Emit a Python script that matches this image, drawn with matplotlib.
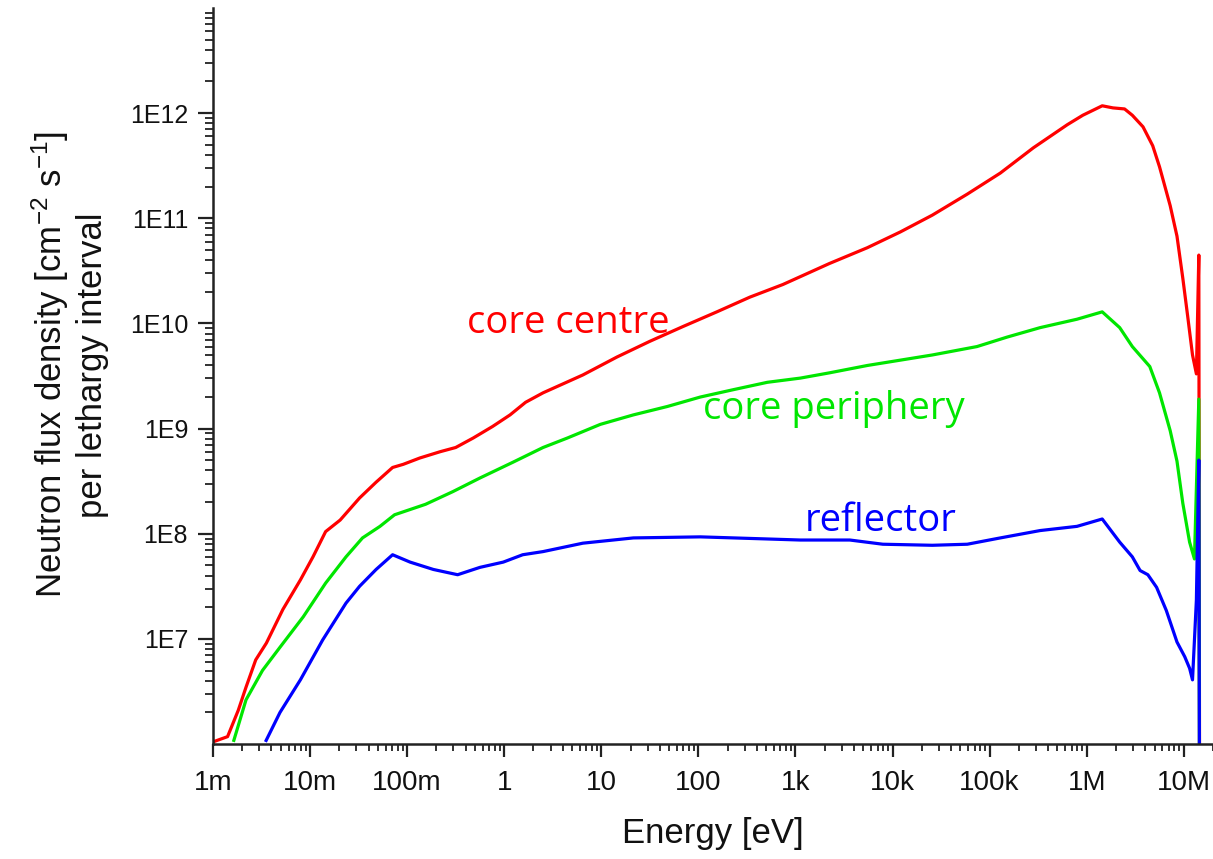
import numpy as np
import matplotlib
matplotlib.use("Agg")
import matplotlib.pyplot as plt
from matplotlib.ticker import FixedLocator, FixedFormatter, LogLocator, NullFormatter

plt.rcParams['font.family'] = ['Liberation Sans', 'DejaVu Sans']
plt.rcParams['mathtext.default'] = 'regular'

# ---- data (log10 of energy in eV, log10 of flux) ----
centre_logE = [-3.00, -2.85, -2.74, -2.66, -2.56, -2.45, -2.28, -2.10, -1.97, -1.84,
               -1.69, -1.49, -1.32, -1.15, -1.04, -0.87, -0.66, -0.50, -0.32, -0.12,
               0.06, 0.22, 0.40, 0.81, 1.16, 1.50, 1.84, 2.19, 2.53, 2.87, 3.35,
               3.74, 4.08, 4.41, 4.77, 5.11, 5.45, 5.80, 5.96, 6.16, 6.27, 6.39,
               6.47, 6.58, 6.68, 6.75, 6.86, 6.93, 6.99, 7.04, 7.09, 7.13, 7.155, 7.165]
centre_logF = [6.02, 6.07, 6.32, 6.54, 6.80, 6.96, 7.28, 7.56, 7.78, 8.02,
               8.13, 8.34, 8.49, 8.63, 8.66, 8.72, 8.78, 8.82, 8.91, 9.02,
               9.13, 9.25, 9.34, 9.51, 9.68, 9.83, 9.97, 10.11, 10.25, 10.37, 10.57,
               10.72, 10.87, 11.03, 11.23, 11.43, 11.67, 11.89, 11.98, 12.07, 12.05, 12.04,
               11.98, 11.87, 11.69, 11.49, 11.12, 10.83, 10.43, 10.07, 9.70, 9.52, 10.65, 4.0]

periph_logE = [-2.79, -2.66, -2.49, -2.31, -2.07, -1.84, -1.63, -1.46, -1.28, -1.13,
               -0.97, -0.81, -0.53, -0.25, 0.09, 0.40, 0.65, 0.99, 1.33, 1.68,
               2.02, 2.36, 2.71, 3.05, 3.35, 3.74, 4.41, 4.87, 5.18, 5.52, 5.90,
               6.16, 6.34, 6.47, 6.65, 6.75, 6.86, 6.93, 6.99, 7.06, 7.11, 7.155, 7.165]
periph_logF = [6.02, 6.42, 6.70, 6.92, 7.21, 7.53, 7.78, 7.96, 8.07, 8.18,
               8.23, 8.28, 8.40, 8.53, 8.68, 8.82, 8.91, 9.04, 9.13, 9.21,
               9.30, 9.37, 9.44, 9.48, 9.53, 9.60, 9.70, 9.78, 9.87, 9.96, 10.04,
               10.11, 9.96, 9.78, 9.59, 9.34, 8.98, 8.69, 8.29, 7.92, 7.76, 9.28, 4.0]

refl_logE = [-2.46, -2.31, -2.10, -1.87, -1.63, -1.49, -1.32, -1.15, -0.97, -0.73,
             -0.48, -0.25, -0.01, 0.19, 0.40, 0.81, 1.33, 2.02, 2.71, 3.05, 3.56,
             3.90, 4.41, 4.77, 5.11, 5.52, 5.90, 6.16, 6.34, 6.47, 6.55, 6.63,
             6.72, 6.82, 6.93, 7.01, 7.06, 7.09, 7.13, 7.155, 7.165]
refl_logF = [6.02, 6.30, 6.61, 6.99, 7.34, 7.50, 7.66, 7.80, 7.73, 7.66,
             7.61, 7.68, 7.73, 7.80, 7.83, 7.91, 7.96, 7.97, 7.95, 7.94, 7.94,
             7.90, 7.89, 7.90, 7.96, 8.03, 8.07, 8.14, 7.92, 7.78, 7.65, 7.61,
             7.49, 7.27, 6.97, 6.83, 6.72, 6.61, 7.37, 8.70, 4.0]

x_tick_values = [1e-3, 1e-2, 1e-1, 1e0, 1e1, 1e2, 1e3, 1e4, 1e5, 1e6, 1e7]
x_tick_labels = ['1m', '10m', '100m', '1', '10', '100', '1k', '10k', '100k', '1M', '10M']
y_tick_values = [1e7, 1e8, 1e9, 1e10, 1e11, 1e12]
y_tick_labels = ['1E7', '1E8', '1E9', '1E10', '1E11', '1E12']

series_names = ['core centre', 'core periphery', 'reflector']
series_colors = ['#ff0000', '#00e600', '#0000ff']
label_x = [4.1e-1, 1.11e2, 1.25e3]
label_y = [8.1e9, 1.23e9, 1.07e8]

# ---- figure ----
W, H = 1213, 859
fig = plt.figure(figsize=(W / 100, H / 100), dpi=100)
ax = fig.add_axes([213 / W, (H - 744) / H, (W - 213) / W, (744 - 8) / H])

data = [(centre_logE, centre_logF), (periph_logE, periph_logF), (refl_logE, refl_logF)]
for (le, lf), c in zip(data, series_colors):
    ax.plot(10 ** np.array(le), 10 ** np.array(lf), color=c, lw=2.3,
            solid_joinstyle='round', solid_capstyle='butt')

ax.set_xscale('log')
ax.set_yscale('log')
ax.set_xlim(1e-3, 2.0e7)
ax.set_ylim(1e6, 1e13)

for s in ['top', 'right']:
    ax.spines[s].set_visible(False)
for s in ['left', 'bottom']:
    ax.spines[s].set_linewidth(1.8)
    ax.spines[s].set_color('#222222')

ax.xaxis.set_major_locator(FixedLocator(x_tick_values))
ax.xaxis.set_major_formatter(FixedFormatter(x_tick_labels))
ax.xaxis.set_minor_locator(LogLocator(base=10, subs=np.arange(2, 10), numticks=30))
ax.xaxis.set_minor_formatter(NullFormatter())
ax.yaxis.set_major_locator(FixedLocator(y_tick_values))
ax.yaxis.set_major_formatter(FixedFormatter(y_tick_labels))
ax.yaxis.set_minor_locator(LogLocator(base=10, subs=np.arange(2, 10), numticks=30))
ax.yaxis.set_minor_formatter(NullFormatter())

ax.tick_params(axis='x', which='major', direction='out', length=9.5, width=1.6,
               color='#222222', pad=9, labelsize=20, labelcolor='#111111')
ax.tick_params(axis='x', which='minor', direction='out', length=5, width=1.3, color='#222222')
ax.tick_params(axis='y', which='major', direction='out', length=11, width=1.6,
               color='#222222', pad=7, labelsize=18, labelcolor='#111111')
ax.tick_params(axis='y', which='minor', direction='out', length=6, width=1.3, color='#222222')

ax.set_xlabel('Energy [eV]', fontsize=25, color='#111111')
ax.xaxis.set_label_coords(0.5, -0.099)
ax.set_ylabel('Neutron flux density [cm$^{-2}$ s$^{-1}$]\nper lethargy interval',
              fontsize=25, color='#111111', linespacing=1.2)
ax.yaxis.set_label_coords(-0.104, 0.515)

for name, c, xp, yp in zip(series_names, series_colors, label_x, label_y):
    ax.text(xp, yp, name, color=c, fontsize=27.5, family=['Open Sans', 'DejaVu Sans'],
            ha='left', va='baseline')

fig.savefig('out.png', dpi=100)
